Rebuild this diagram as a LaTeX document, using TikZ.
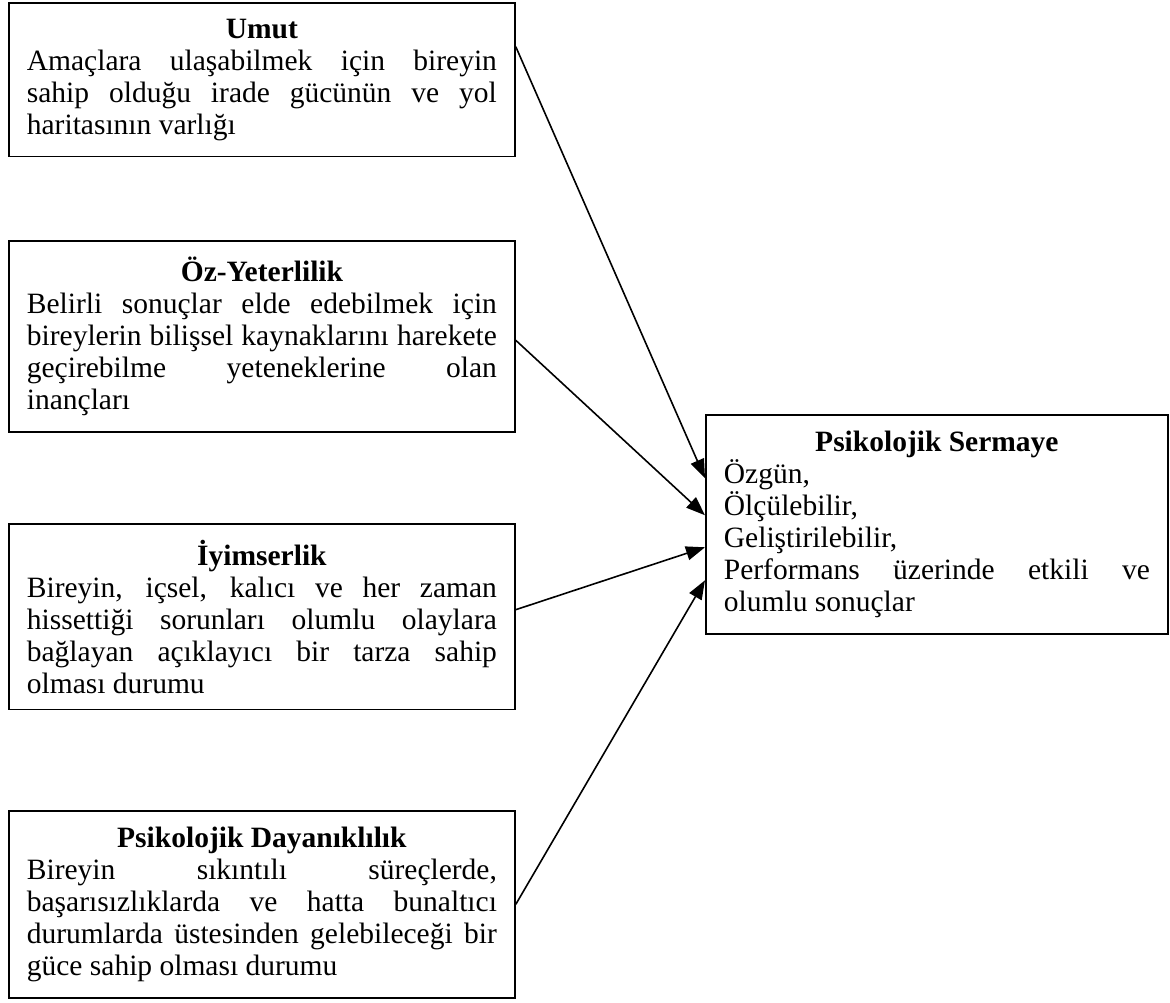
\documentclass[tikz,border=0pt]{standalone}
\usepackage{fontspec}
\setmainfont{Liberation Serif}
\usetikzlibrary{arrows.meta}
\newcommand\ttl[1]{\makebox[\linewidth][c]{\bfseries #1}\par}
\newcommand\jl[1]{{\spaceskip=0pt\xspaceskip=0pt\makebox[\linewidth][s]{#1}}\par}
\begin{document}
\begin{tikzpicture}[x=1pt,y=-1pt,
  box/.style={draw, line width=1.8pt, anchor=north west, text width=470pt,
    inner xsep=18pt, inner ysep=16pt, align=justify,
    font=\fontsize{29.5}{32}\selectfont},
  conn/.style={line width=1.6pt, -{Triangle[length=19pt,width=14pt]}}]
\useasboundingbox (0,0) rectangle (1170,1003);
\node[box] (umut) at (8,2) {\ttl{Umut}\jl{Amaçlara ulaşabilmek için bireyin}\jl{sahip olduğu irade gücünün ve yol}haritasının varlığı};
\node[box] (oz) at (8,240) {\ttl{Öz-Yeterlilik}\jl{Belirli sonuçlar elde edebilmek için}\jl{bireylerin bilişsel kaynaklarını harekete}\jl{geçirebilme yeteneklerine olan}inançları};
\node[box] (iyi) at (8,523) {\ttl{İyimserlik}\jl{Bireyin, içsel, kalıcı ve her zaman}\jl{hissettiği sorunları olumlu olaylara}\jl{bağlayan açıklayıcı bir tarza sahip}olması durumu};
\node[box] (dayan) at (8,810) {\ttl{Psikolojik Dayanıklılık}\jl{Bireyin sıkıntılı süreçlerde,}\jl{başarısızlıklarda ve hatta bunaltıcı}\jl{durumlarda üstesinden gelebileceği bir}güce sahip olması durumu};
\node[box, text width=426pt] (serm) at (705,414) {\ttl{Psikolojik Sermaye}Özgün,\par Ölçülebilir,\par Geliştirilebilir,\par\jl{Performans üzerinde etkili ve}olumlu sonuçlar};
\draw[conn] ([yshift=33pt]umut.east) -- ([yshift=46pt]serm.west);
\draw[conn] ([yshift=-4pt]oz.east) -- ([yshift=9pt]serm.west);
\draw[conn] ([yshift=7pt]iyi.east) -- ([yshift=-23pt]serm.west);
\draw[conn] (dayan.east) -- ([yshift=-56pt]serm.west);
\end{tikzpicture}
\end{document}
